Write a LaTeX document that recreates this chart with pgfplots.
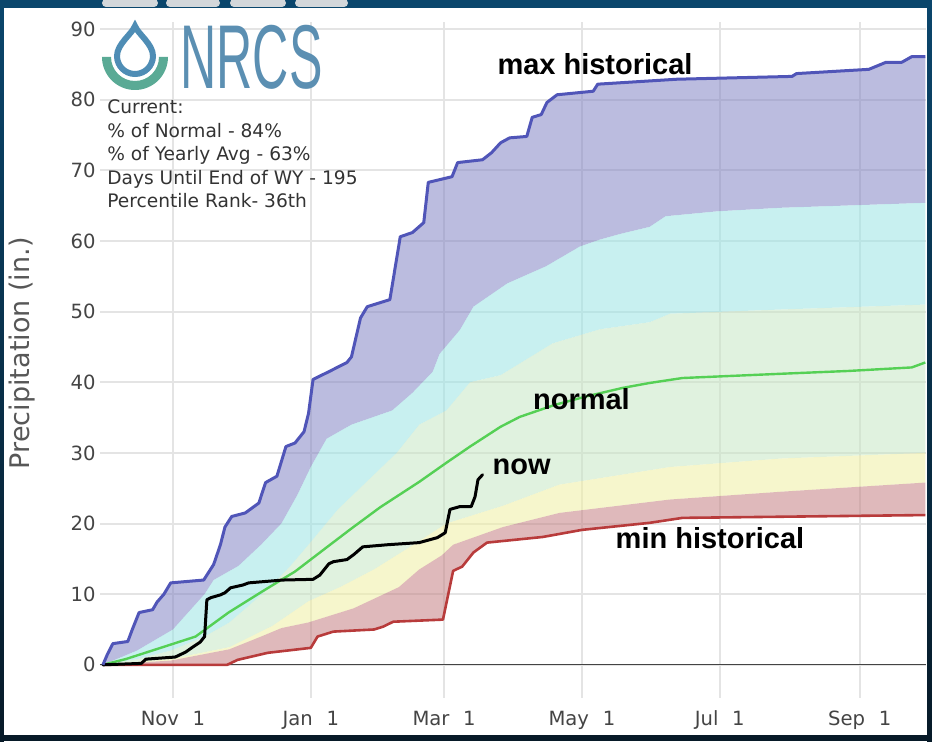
\documentclass[border=0pt]{standalone}
\usepackage{pgfplots}
\pgfplotsset{compat=1.18}
\usepgfplotslibrary{fillbetween}
\usepackage{fontspec}
\setmainfont{DejaVu Sans}
\newfontfamily\arialf{Liberation Sans}
\definecolor{frameTop}{HTML}{0A466C}
\definecolor{frameBot}{HTML}{071A28}
\definecolor{gridc}{HTML}{E4E4E4}
\definecolor{tickc}{HTML}{444444}
\definecolor{maxline}{HTML}{5055B8}
\definecolor{purplef}{RGB}{131,133,197}
\definecolor{cyanf}{RGB}{155,228,228}
\definecolor{greenf}{RGB}{199,231,197}
\definecolor{yellowf}{RGB}{239,239,162}
\definecolor{redf}{RGB}{197,128,131}
\definecolor{minline}{HTML}{B83B3B}
\definecolor{normline}{HTML}{55D055}
\definecolor{nrcsblue}{HTML}{4F8DB5}
\definecolor{nrcsteal}{HTML}{5AAA95}
\definecolor{nrcstext}{HTML}{5B8FB2}
\definecolor{tabc}{HTML}{D3D7DA}

\pgfplotstableread{
d v
0 0
2 1.5
4.4 3.0
11 3.3
13 5
16 7.4
22 7.8
24 8.9
27 10
30 11.6
44.6 12.0
49 14.2
52 17
54 19.5
57 21.0
63 21.5
69 22.9
72 25.8
77 26.7
81 30.9
85 31.4
89 33
91 35.6
93 40.4
100 41.5
108 42.8
110 43.6
114 49.1
117 50.7
127 51.7
131.6 60.6
137 61.2
142 62.6
144 68.3
154.5 69.1
157 71.1
168 71.5
172 72.5
176 73.9
180 74.6
187.6 74.8
190 77.5
194 77.9
196.5 79.6
201 80.7
217 81.2
219 82.2
254 82.9
305 83.3
307 83.7
339 84.3
346.6 85.3
353.6 85.3
358 86.1
364 86.1
}\maxtab

\pgfplotstableread{
d v
0 0
15 2
31 5
45 10
49 12
60 14
70 17
79 20
86 24
92 28
99 32
110 34
128 36
137 38.5
143 40.5
146 41.5
149 44
158 47.4
164 50.7
179 54
196 56.4
211 59.2
220 60.2
229 61
242 62
249 63.5
272 64.2
300 64.7
364 65.4
}\pninety

\pgfplotstableread{
d v
0 0
15 0.8
30 2
45 4
56 6
65 8.5
74 11
83 14
91 17
104 22
117 26
130 30
140 34
152 36
162.5 40
176 41
199 45.5
220 47.5
242 48.5
251 49.7
300 50.3
364 51
}\pseventy

\pgfplotstableread{
d v
0 0
30 0.8
56 2.5
75 5.5
91 9
105 11
120 13.5
140 17.5
152 20
177 22.5
202 25.5
251 28
300 29.2
364 30
}\pthirty

\pgfplotstableread{
d v
0 0
30 0.6
56 2.2
70 4
79 5.2
91 6
111 8
131 11
140 13.5
150 15.5
155 17
177 19.5
202 21.5
251 23.4
300 24.5
364 25.8
}\pten

\pgfplotstableread{
d v
0 0
55 0
59.6 0.7
73 1.7
92 2.4
95 4
102 4.7
120 5
124 5.4
128.5 6.1
150.5 6.4
155 13.3
159 13.9
164 15.9
170 17.3
194.7 18.1
212 19.1
242 20.1
256.5 20.8
364 21.2
}\mintab

\pgfplotstableread{
d v
0 0
10 0.8
26.5 2.5
41 4
55.6 7.4
70.6 10.4
85 13.2
98.5 16.5
110 19.3
122.7 22.3
140 25.9
152 28.6
162.5 30.9
176 33.7
184.5 35.1
200 36.8
214 38
230 39.2
242 39.9
256.5 40.6
300 41.2
330 41.6
358 42.1
364 42.8
}\normtab

\pgfplotstableread{
d v
0 0
17 0.2
19 0.8
32 1.1
36.6 1.8
39.7 2.5
43 3.2
45 4
46 9.2
47.7 9.5
52 9.9
54 10.2
56.5 10.9
62 11.3
64.5 11.6
79.5 12
93 12.1
96 12.7
100 14.3
102 14.6
108 14.9
111 15.6
115 16.7
126 17
140 17.3
148 18
151.5 18.7
153.6 22
158 22.4
163 22.4
164.7 23.8
166 26.2
168 26.9
}\nowtab

\begin{document}
\begin{tikzpicture}
% frame (border ring only, interior left empty so axis layers show)
\fill[frameTop] (-50pt,345pt) rectangle (416pt,349pt);
\fill[frameBot] (-50pt,-21.5pt) rectangle (416pt,-18.5pt);
\shade[top color=frameTop, bottom color=frameBot] (-50pt,-21.5pt) rectangle (-48pt,349pt);
\shade[top color=frameTop, bottom color=frameBot] (413.5pt,-21.5pt) rectangle (416pt,349pt);
\foreach \a/\b in {1/29, 33/60, 65/93, 97.5/124}{
  \fill[tabc, rounded corners=2pt] (\a pt,345.5pt) rectangle (\b pt,349.5pt);
}
\begin{axis}[
  at={(0,0)}, anchor=south west,
  scale only axis, width=413pt, height=338pt,
  xmin=-1.3, xmax=364.3, ymin=-4.7, ymax=91,
  axis line style={draw=none},
  major tick length=0pt,
  grid=major,
  grid style={color=gridc, line width=1pt},
  xtick={31,92,151,212,273,335},
  xticklabels={Nov\hspace{0.7em}1, Jan\hspace{0.7em}1, Mar\hspace{0.7em}1, May\hspace{0.7em}1, Jul\hspace{0.7em}1, Sep\hspace{0.7em}1},
  ytick={0,10,...,90},
  tick label style={font=\fontsize{9.8}{12}\selectfont, text=tickc},
  yticklabel style={inner sep=1pt, xshift=-1pt},
  xticklabel style={yshift=-3pt},
  /pgf/number format/assume math mode=true,
  ylabel={Precipitation (in.)},
  ylabel style={at={(axis description cs:-0.0944,0.51)}, anchor=center, font=\fontsize{13.5}{15}\selectfont, text=tickc!90!white},
]
\addplot[draw=none, name path=pmax] table[x=d,y=v] {\maxtab};
\addplot[draw=none, name path=p90] table[x=d,y=v] {\pninety};
\addplot[draw=none, name path=p70] table[x=d,y=v] {\pseventy};
\addplot[draw=none, name path=p30] table[x=d,y=v] {\pthirty};
\addplot[draw=none, name path=p10] table[x=d,y=v] {\pten};
\addplot[draw=none, name path=pmin] table[x=d,y=v] {\mintab};

\addplot[fill=purplef, fill opacity=0.55, draw=none] fill between[of=pmax and p90];
\addplot[fill=cyanf, fill opacity=0.55, draw=none] fill between[of=p90 and p70];
\addplot[fill=greenf, fill opacity=0.55, draw=none] fill between[of=p70 and p30];
\addplot[fill=yellowf, fill opacity=0.55, draw=none] fill between[of=p30 and p10];
\addplot[fill=redf, fill opacity=0.55, draw=none] fill between[of=p10 and pmin];

\addplot[color=tickc, line width=0.6pt] coordinates {(-1.3,0) (364.3,0)};

\addplot[color=minline, line width=1.3pt, line join=round] table[x=d,y=v] {\mintab};
\addplot[color=normline, line width=1.2pt, line join=round] table[x=d,y=v] {\normtab};
\addplot[color=black, line width=1.5pt, line join=round, line cap=round] table[x=d,y=v] {\nowtab};
\addplot[color=maxline, line width=1.5pt, line join=round] table[x=d,y=v] {\maxtab};

\node[anchor=base, font=\arialf\bfseries\fontsize{14.5}{16}\selectfont] at (axis cs:217.8,83.5) {max historical};
\node[anchor=base, font=\arialf\bfseries\fontsize{14.5}{16}\selectfont] at (axis cs:211.8,36.1) {normal};
\node[anchor=base, font=\arialf\bfseries\fontsize{14.5}{16}\selectfont] at (axis cs:185.3,26.9) {now};
\node[anchor=base, font=\arialf\bfseries\fontsize{14.5}{16}\selectfont] at (axis cs:268.7,16.4) {min historical};

\begin{scope}[every node/.style={anchor=base west, inner sep=0pt, font=\fontsize{9.3}{10}\selectfont, text=black!80}]
\node at (axis cs:1.8,78.1) {Current:};
\node at (axis cs:1.8,74.7) {\% of Normal - 84\%};
\node at (axis cs:1.8,71.4) {\% of Yearly Avg - 63\%};
\node at (axis cs:1.8,68.0) {Days Until End of WY - 195};
\node at (axis cs:1.8,64.8) {Percentile Rank- 36th};
\end{scope}
\end{axis}
% NRCS logo
\fill[nrcsteal] (1pt,320.5pt) arc[start angle=180,end angle=360,radius=16.5pt] -- ++(-4.5pt,0pt) arc[start angle=0,end angle=-180,radius=12pt] -- cycle;
\draw[line width=3pt, color=nrcsblue, fill=white] (17.5pt,336pt) .. controls (19pt,332pt) and (26.5pt,327pt) .. (26.5pt,321pt) arc[start angle=0,end angle=-180,radius=9pt] .. controls (8.5pt,327pt) and (16pt,332pt) .. cycle;
\node[anchor=base west, inner sep=0pt, text=nrcstext] at (40pt,305pt) {\scalebox{0.57}[1.03]{\arialf\fontsize{44}{44}\selectfont NRCS}};
\pgfresetboundingbox
\path[use as bounding box] (-50pt,-21.5pt) rectangle (416pt,349pt);
\end{tikzpicture}
\end{document}
